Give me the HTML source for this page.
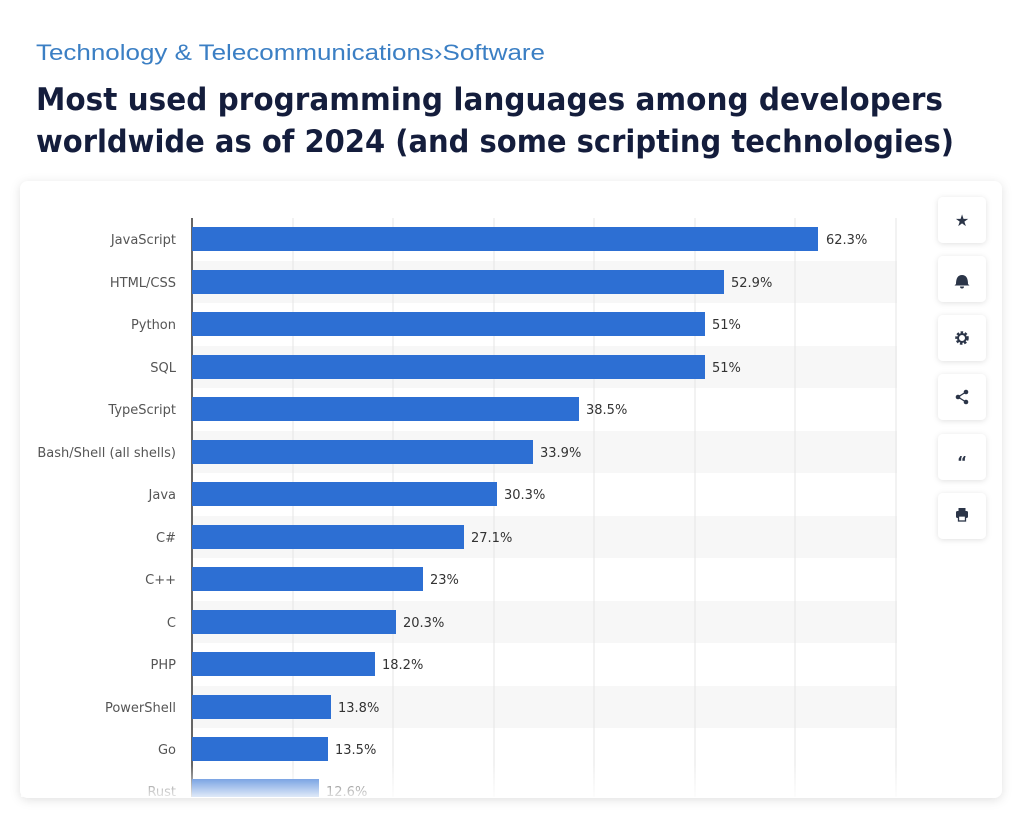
<!DOCTYPE html>
<html><head><meta charset="utf-8"><style>
html,body{margin:0;padding:0;background:#fff;width:1024px;height:836px;overflow:hidden}
svg{display:block}
</style></head><body>
<svg width="1024" height="836" viewBox="0 0 1024 836" xmlns="http://www.w3.org/2000/svg">
<defs>
<filter id="sh" x="-5%" y="-5%" width="110%" height="115%"><feDropShadow dx="0" dy="2" stdDeviation="5" flood-color="#000" flood-opacity="0.12"/></filter>
<filter id="sh2" x="-30%" y="-30%" width="160%" height="160%"><feDropShadow dx="0" dy="1" stdDeviation="3" flood-color="#000" flood-opacity="0.12"/></filter>
<linearGradient id="fade" x1="0" y1="0" x2="0" y2="1"><stop offset="0" stop-color="#fff" stop-opacity="0"/><stop offset="1" stop-color="#fff" stop-opacity="0.85"/></linearGradient>
</defs>
<text x="36" y="60" font-family="Liberation Sans, sans-serif" font-size="22" fill="#3b7fc4" textLength="509" lengthAdjust="spacingAndGlyphs">Technology &amp; Telecommunications›Software</text>
<text x="36" y="110" font-family="DejaVu Sans, sans-serif" font-weight="bold" font-size="31" fill="#141d3c" textLength="907" lengthAdjust="spacingAndGlyphs">Most used programming languages among developers</text>
<text x="36" y="152" font-family="DejaVu Sans, sans-serif" font-weight="bold" font-size="31" fill="#141d3c" textLength="918" lengthAdjust="spacingAndGlyphs">worldwide as of 2024 (and some scripting technologies)</text>
<rect x="20" y="181" width="982" height="617" rx="8" fill="#fff" filter="url(#sh)"/>
<g fill="#f7f7f7">
<rect x="193" y="261" width="704" height="42"/><rect x="193" y="346" width="704" height="42"/>
<rect x="193" y="431" width="704" height="42"/><rect x="193" y="516" width="704" height="42"/>
<rect x="193" y="601" width="704" height="42"/><rect x="193" y="686" width="704" height="42"/>
</g>
<g stroke="#e6e6e6" stroke-width="1">
<line x1="293" y1="218" x2="293" y2="797"/><line x1="393" y1="218" x2="393" y2="797"/>
<line x1="494" y1="218" x2="494" y2="797"/><line x1="594" y1="218" x2="594" y2="797"/>
<line x1="695" y1="218" x2="695" y2="797"/><line x1="795" y1="218" x2="795" y2="797"/>
<line x1="896" y1="218" x2="896" y2="797"/>
</g>
<line x1="192" y1="218" x2="192" y2="797" stroke="#333" stroke-width="1.5"/>
<g fill="#2d6fd3">
<rect x="192" y="227" width="626" height="24"/>
<rect x="192" y="270" width="532" height="24"/>
<rect x="192" y="312" width="513" height="24"/>
<rect x="192" y="355" width="513" height="24"/>
<rect x="192" y="397" width="387" height="24"/>
<rect x="192" y="440" width="341" height="24"/>
<rect x="192" y="482" width="305" height="24"/>
<rect x="192" y="525" width="272" height="24"/>
<rect x="192" y="567" width="231" height="24"/>
<rect x="192" y="610" width="204" height="24"/>
<rect x="192" y="652" width="183" height="24"/>
<rect x="192" y="695" width="139" height="24"/>
<rect x="192" y="737" width="136" height="24"/>
<rect x="192" y="779" width="127" height="18"/>
</g>
<g font-family="DejaVu Sans, sans-serif" font-size="13" fill="#555" text-anchor="end">
<text x="176" y="244">JavaScript</text><text x="176" y="287">HTML/CSS</text>
<text x="176" y="329">Python</text><text x="176" y="372">SQL</text>
<text x="176" y="414">TypeScript</text><text x="176" y="457">Bash/Shell (all shells)</text>
<text x="176" y="499">Java</text><text x="176" y="542">C#</text>
<text x="176" y="584">C++</text><text x="176" y="627">C</text>
<text x="176" y="669">PHP</text><text x="176" y="712">PowerShell</text>
<text x="176" y="754">Go</text><text x="176" y="796">Rust</text>
</g>
<g font-family="DejaVu Sans, sans-serif" font-size="13" fill="#333">
<text x="826" y="244">62.3%</text><text x="731" y="287">52.9%</text>
<text x="712" y="329">51%</text><text x="712" y="372">51%</text>
<text x="586" y="414">38.5%</text><text x="540" y="457">33.9%</text>
<text x="504" y="499">30.3%</text><text x="471" y="542">27.1%</text>
<text x="430" y="584">23%</text><text x="403" y="627">20.3%</text>
<text x="382" y="669">18.2%</text><text x="338" y="712">13.8%</text>
<text x="335" y="754">13.5%</text><text x="326" y="796">12.6%</text>
</g>
<rect x="21" y="765" width="880" height="32" fill="url(#fade)"/>
<g filter="url(#sh2)" fill="#fff">
<rect x="938" y="197" width="48" height="46" rx="5"/><rect x="938" y="256" width="48" height="46" rx="5"/>
<rect x="938" y="315" width="48" height="46" rx="5"/><rect x="938" y="374" width="48" height="46" rx="5"/>
<rect x="938" y="434" width="48" height="46" rx="5"/><rect x="938" y="493" width="48" height="46" rx="5"/>
</g>
<g fill="#2b3548" font-family="DejaVu Sans, sans-serif" text-anchor="middle">
<text x="962" y="226" font-size="16">★</text>
<path d="M956 284 q0-9 6-9 q6 0 6 9 l1.5 1.5 h-15 z M960 286.5 h4 q0 2-2 2 q-2 0-2-2z"/>
<circle cx="962" cy="338" r="5" fill="none" stroke="#2b3548" stroke-width="3.5" stroke-dasharray="2.2 1.5"/>
<circle cx="962" cy="338" r="4" fill="none" stroke="#2b3548" stroke-width="2"/>
<circle cx="966" cy="392" r="2.3"/><circle cx="958" cy="397" r="2.3"/><circle cx="966" cy="402" r="2.3"/>
<path d="M966 392 L958 397 L966 402" stroke="#2b3548" stroke-width="1.3" fill="none"/>
<text x="962" y="467" font-size="15" font-weight="bold">“</text>
<rect x="956" y="511" width="12" height="7" rx="1.5"/><rect x="958.5" y="508" width="7" height="3" /><rect x="958.5" y="516" width="7" height="5" fill="#fff" stroke="#2b3548" stroke-width="1.3"/>
</g>
</svg>
</body></html>
